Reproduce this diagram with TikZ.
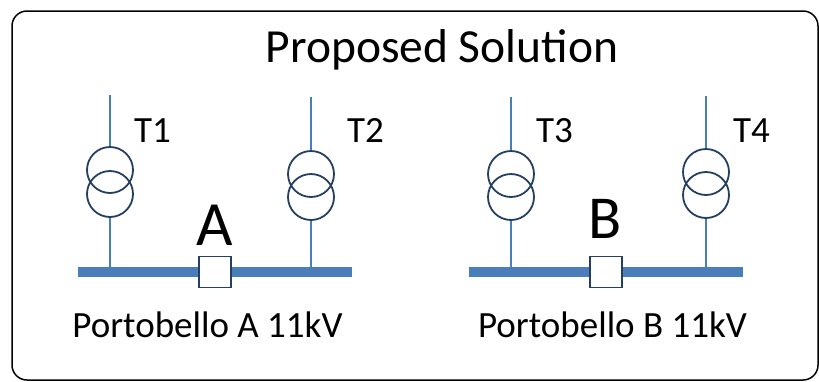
\documentclass[tikz,border=0pt]{standalone}
\usepackage{fontspec}
\setmainfont{Carlito}
\usepackage{tikz}
\usetikzlibrary{calc}

\definecolor{busblue}{HTML}{4A7EBB}
\definecolor{navy}{HTML}{243F60}

\begin{document}
\begin{tikzpicture}[x=1pt,y=-1pt]

		\tikzstyle{every node}=[inner sep=0pt]
		\tikzstyle{feeder}=[busblue, line width=1.5pt]
		\tikzstyle{busbar}=[busblue, line width=10pt]
		\tikzstyle{winding}=[circle, draw=navy, line width=1.8pt, minimum size=46pt]
		\tikzstyle{breaker}=[rectangle, draw=navy, line width=1.6pt, fill=white, minimum width=32pt, minimum height=31pt]
		\tikzstyle{tlabel}=[anchor=base, font=\fontsize{37}{41}\selectfont]

		\useasboundingbox (0,0) rectangle (819,381);
		\draw[line width=1.5pt, rounded corners=15pt] (12,11) rectangle (818,380);

		\node[anchor=base, font=\fontsize{47.5}{54}\selectfont] (title) at (442,62) {Proposed Solution};

		% Portobello A
		\coordinate (busAw) at (78,272);
		\coordinate (busAe) at (352,272);
		\draw[busbar] (busAw) -- (busAe);

		\coordinate (inT1) at (110,95);
		\node[winding] (t1a) at (110,170) {};
		\node[winding] (t1b) at (110,194) {};
		\draw[feeder] (inT1) -- (t1a.north);
		\draw[feeder] (t1b.south) -- (t1b.south |- busAw);
		\node[tlabel] (lt1) at (152.5,142) {T1};

		\coordinate (inT2) at (311,97);
		\node[winding] (t2a) at (311,174) {};
		\node[winding] (t2b) at (311,197) {};
		\draw[feeder] (inT2) -- (t2a.north);
		\draw[feeder] (t2b.south) -- (t2b.south |- busAw);
		\node[tlabel] (lt2) at (365.5,142) {T2};

		\node[breaker] (cbA) at (215,272) {};
		\node[anchor=base, font=\fontsize{63}{70}\selectfont] (lA) at (215,245) {A};
		\node[tlabel] (nameA) at (207.5,337) {Portobello A 11kV};

		% Portobello B
		\coordinate (busBw) at (469,272);
		\coordinate (busBe) at (743,272);
		\draw[busbar] (busBw) -- (busBe);

		\coordinate (inT3) at (511,97);
		\node[winding] (t3a) at (511,174) {};
		\node[winding] (t3b) at (511,197) {};
		\draw[feeder] (inT3) -- (t3a.north);
		\draw[feeder] (t3b.south) -- (t3b.south |- busBw);
		\node[tlabel] (lt3) at (554.5,142) {T3};

		\coordinate (inT4) at (706,96);
		\node[winding] (t4a) at (706,172) {};
		\node[winding] (t4b) at (706,195) {};
		\draw[feeder] (inT4) -- (t4a.north);
		\draw[feeder] (t4b.south) -- (t4b.south |- busBw);
		\node[tlabel] (lt4) at (751.5,142) {T4};

		\node[breaker] (cbB) at (606,272) {};
		\node[anchor=base, font=\fontsize{61}{68}\selectfont] (lB) at (605,238) {B};
		\node[tlabel] (nameB) at (612.5,337) {Portobello B 11kV};

\end{tikzpicture}
\end{document}
